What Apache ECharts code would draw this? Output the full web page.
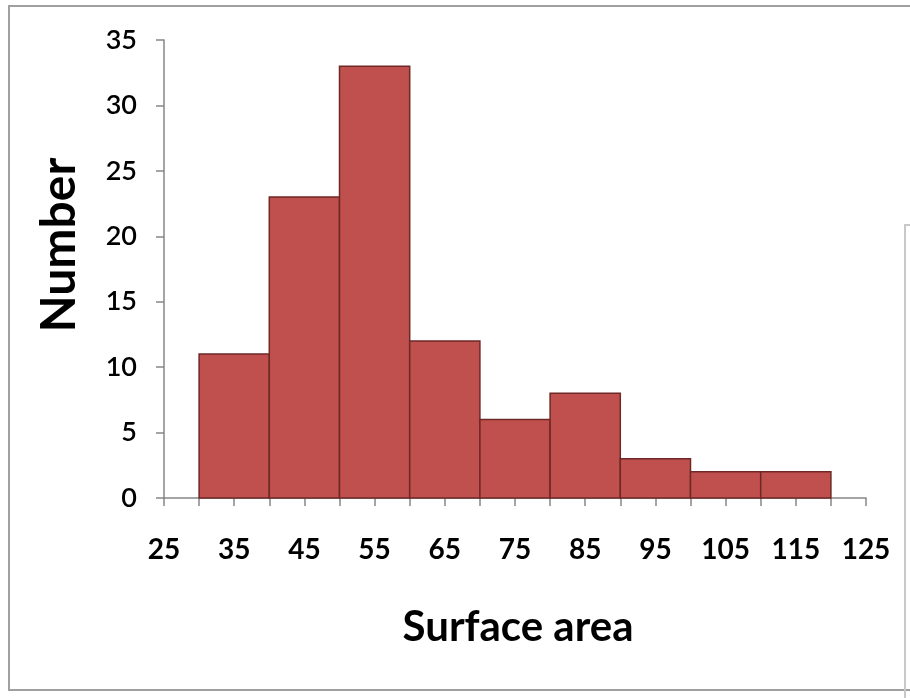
<!DOCTYPE html>
<html>
<head>
<meta charset="utf-8">
<script src="https://cdn.jsdelivr.net/npm/echarts@6/dist/echarts.min.js"></script>
<style>
  html, body { margin: 0; padding: 0; background: #fff; }
  #chart { width: 910px; height: 698px; }
</style>
</head>
<body>
<div id="chart"></div>
<script>
// bin edges and counts
var binStart = [30, 40, 50, 60, 70, 80, 90, 100, 110];
var binEnd = [40, 50, 60, 70, 80, 90, 100, 110, 120];
var counts = [11, 23, 33, 12, 6, 8, 3, 2, 2];
var xLabels = [25, 35, 45, 55, 65, 75, 85, 95, 105, 115, 125];
var yTicks = [0, 5, 10, 15, 20, 25, 30, 35];

var chart = echarts.init(document.getElementById('chart'));

var barData = binStart.map(function (s, i) {
  return [s, binEnd[i], counts[i]];
});

chart.setOption({
  animation: false,
  grid: { left: 164, right: 44, top: 40, bottom: 200 },
  xAxis: {
    type: 'value',
    min: 25,
    max: 125,
    interval: 5,
    splitLine: { show: false },
    axisLine: { lineStyle: { color: '#868686', width: 1.5 } },
    axisTick: { length: 8, lineStyle: { color: '#868686', width: 1.5 } },
    axisLabel: {
      margin: 38,
      color: '#000',
      fontFamily: 'Lato',
      fontWeight: 'bold',
      fontSize: 28,
      formatter: function (v) {
        return xLabels.indexOf(v) >= 0 ? String(v) : '';
      }
    }
  },
  yAxis: {
    type: 'value',
    min: 0,
    max: 35,
    interval: 5,
    splitLine: { show: false },
    axisLine: { show: true, lineStyle: { color: '#868686', width: 1.5 } },
    axisTick: { show: true, length: 8, lineStyle: { color: '#868686', width: 1.5 } },
    axisLabel: {
      margin: 27,
      color: '#000',
      fontFamily: 'Lato',
      fontWeight: 600,
      fontSize: 27,
      formatter: function (v) {
        return yTicks.indexOf(v) >= 0 ? String(v) : '';
      }
    }
  },
  series: [{
    type: 'custom',
    data: barData,
    encode: { x: [0, 1], y: 2 },
    renderItem: function (params, api) {
      var p0 = api.coord([api.value(0), 0]);
      var p1 = api.coord([api.value(1), api.value(2)]);
      return {
        type: 'rect',
        shape: { x: p0[0], y: p1[1], width: p1[0] - p0[0], height: p0[1] - p1[1] },
        style: { fill: '#C0504D', stroke: '#6E2927', lineWidth: 1.5 }
      };
    }
  }],
  graphic: [
    {
      type: 'rect',
      shape: { x: 9, y: 6, width: 920, height: 684 },
      style: { fill: 'none', stroke: '#a0a0a0', lineWidth: 2 },
      silent: true
    },
    {
      type: 'polyline',
      shape: { points: [[905, 698], [905, 225], [912, 225]] },
      style: { fill: 'none', stroke: '#c8c8c8', lineWidth: 2 },
      silent: true
    },
    {
      type: 'text',
      x: 518,
      y: 627,
      style: {
        text: 'Surface area',
        fontFamily: 'Lato',
        fontWeight: 'bold',
        fontSize: 42,
        fill: '#000',
        align: 'center',
        verticalAlign: 'middle'
      }
    },
    {
      type: 'text',
      x: 60,
      y: 245,
      rotation: Math.PI / 2,
      style: {
        text: 'Number',
        fontFamily: 'Lato',
        fontWeight: 'bold',
        fontSize: 48,
        fill: '#000',
        align: 'center',
        verticalAlign: 'middle'
      }
    }
  ]
});
</script>
</body>
</html>
